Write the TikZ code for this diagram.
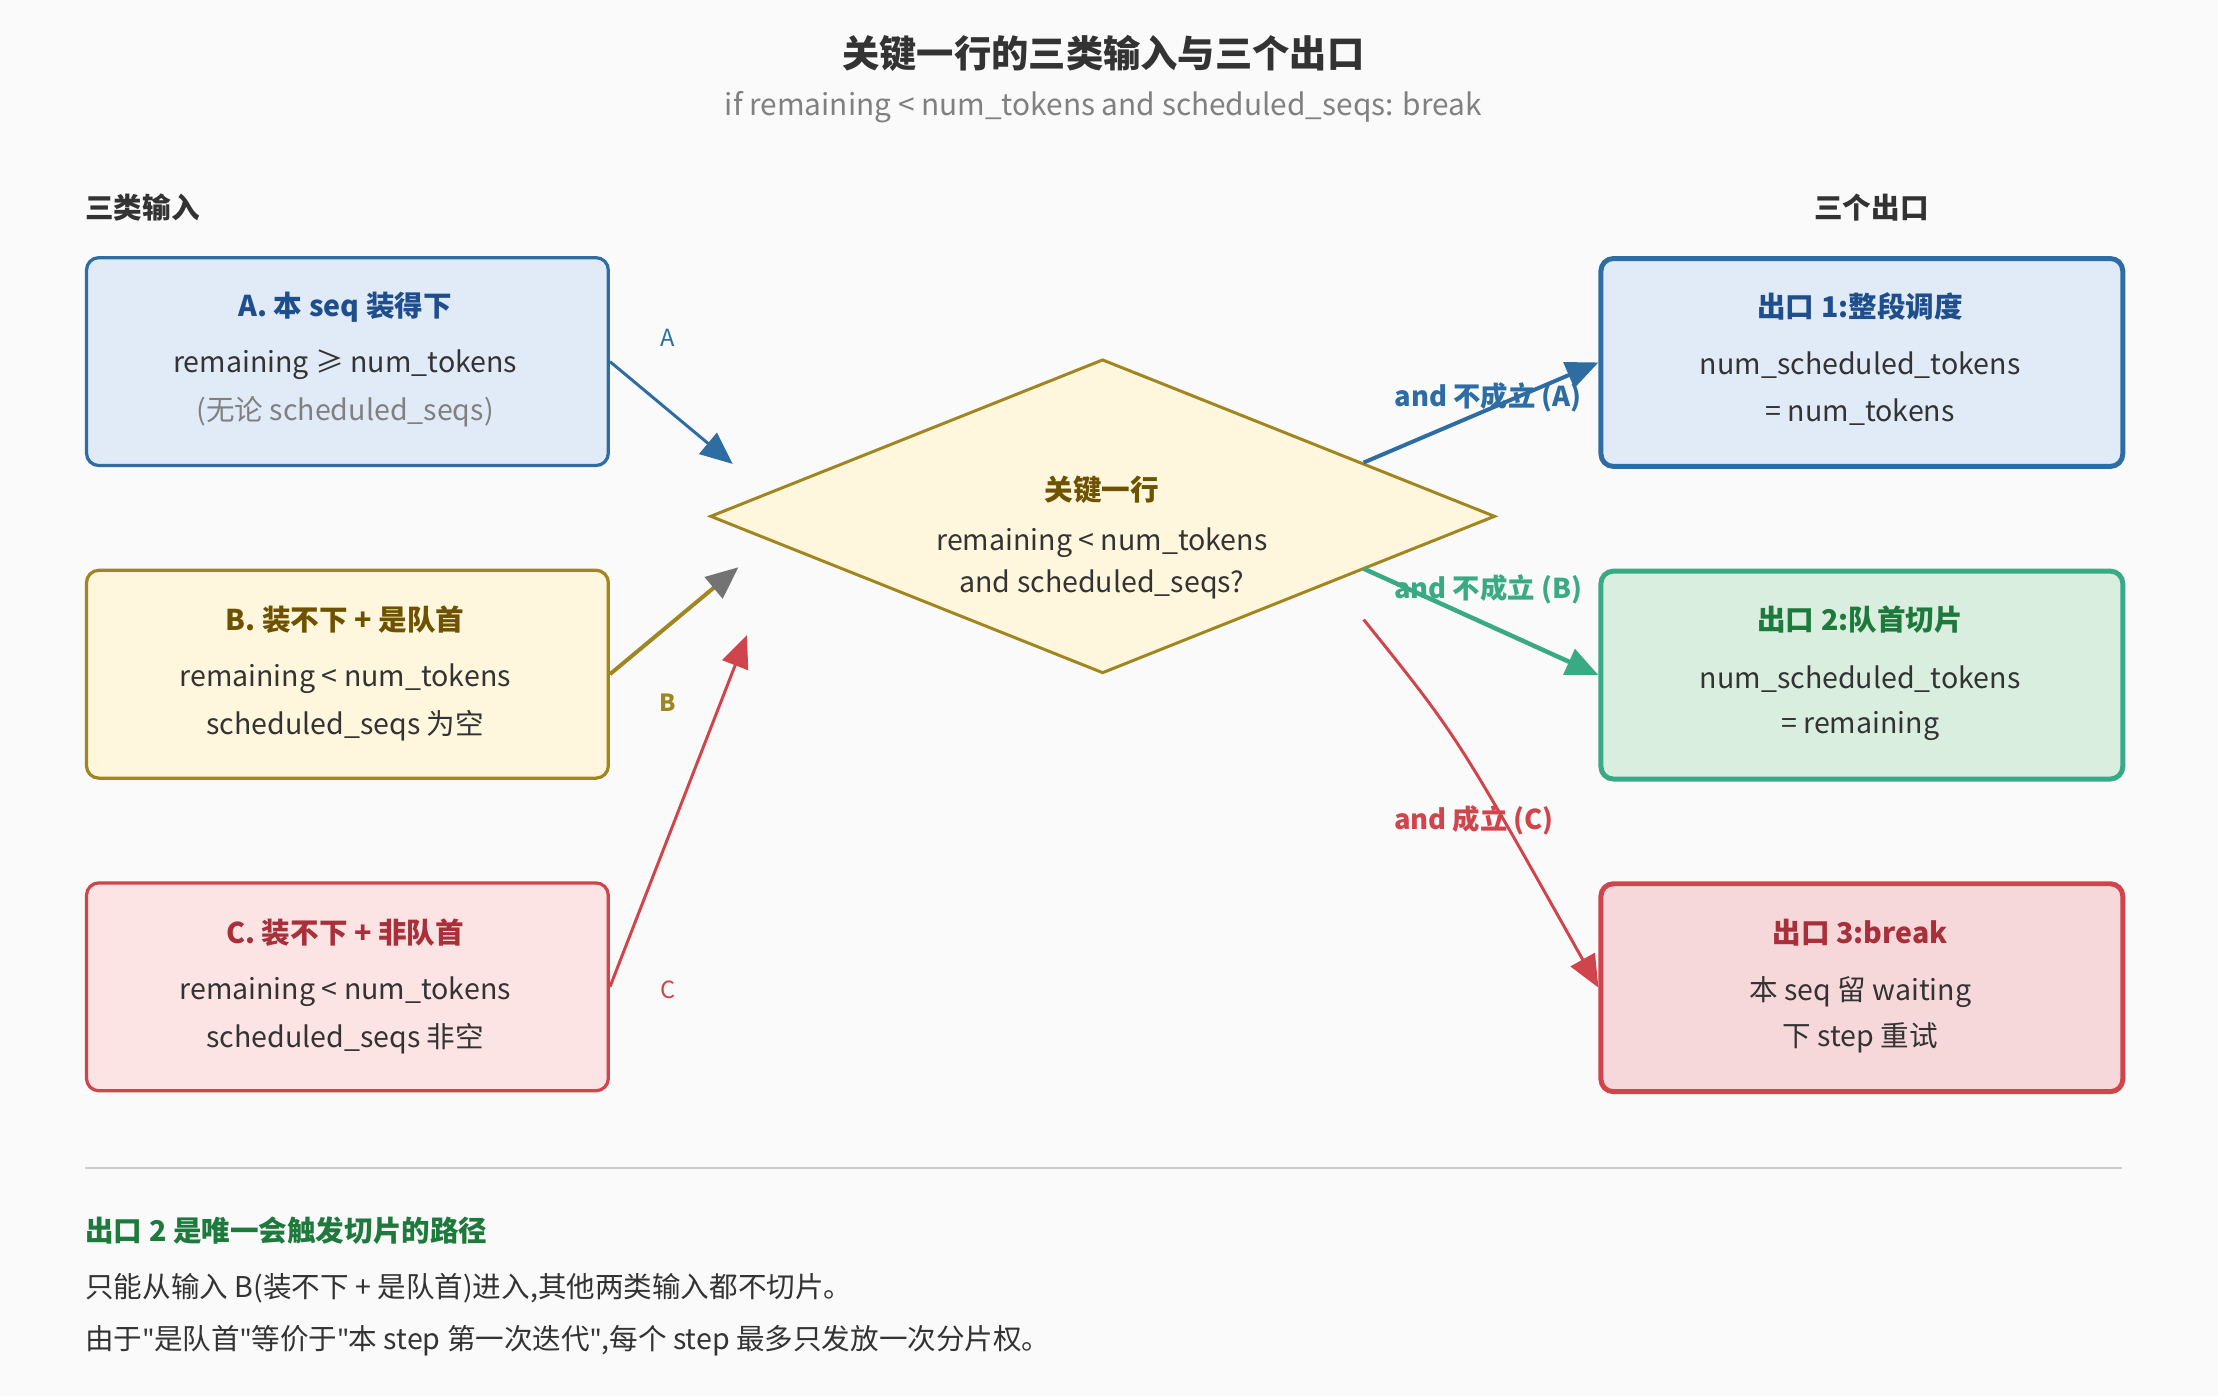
\documentclass[tikz,border=0pt]{standalone}
\usepackage{fontspec}
\setmainfont{Noto Sans CJK SC}
\newfontfamily\qfont{Noto Sans}
\usetikzlibrary{shapes.geometric,arrows.meta,positioning}
\definecolor{bgc}{HTML}{FAFAFA}
\definecolor{blueb}{HTML}{2E6DA4}
\definecolor{bluef}{HTML}{E1EBF8}
\definecolor{bluet}{HTML}{1F4E8C}
\definecolor{goldb}{HTML}{A08520}
\definecolor{goldf}{HTML}{FFF7DD}
\definecolor{goldt}{HTML}{6E5200}
\definecolor{redb}{HTML}{D0454C}
\definecolor{redf}{HTML}{FDE4E4}
\definecolor{redof}{HTML}{F6D8DA}
\definecolor{redt}{HTML}{A8303A}
\definecolor{greenb}{HTML}{3AAA85}
\definecolor{greenf}{HTML}{D9EEDF}
\definecolor{greent}{HTML}{1E7A3C}
\definecolor{txt}{HTML}{333333}
\newcommand{\dq}{{\qfont\symbol{34}}}
\begin{document}
\begin{tikzpicture}[x=0.02cm,y=-0.02cm,
    box/.style={rectangle,rounded corners=5pt,line width=1.3pt,minimum width=7.38cm,minimum height=2.94cm,anchor=north west},
    outbox/.style={box,line width=2pt},
    ttl/.style={font=\fontsize{11.5}{14}\selectfont\bfseries},
    body/.style={font=\fontsize{11.5}{14}\selectfont,text=txt},
    lab/.style={font=\fontsize{9.5}{12}\selectfont},
    elab/.style={font=\fontsize{11}{14}\selectfont\bfseries},
    arr/.style={line width=1.2pt,-{Triangle[length=13pt,width=11pt]}}]
  \fill[bgc] (0,0) rectangle (1568,987);
  \useasboundingbox (0,0) rectangle (1568,987);

  % title
  \node[font=\fontsize{15}{18}\selectfont\bfseries,text=txt] (title) at (780,38) {关键一行的三类输入与三个出口};
  \node[font=\fontsize{12}{14}\selectfont,text=gray] (sub) at (780,76) {if remaining < num\_tokens and scheduled\_seqs: break};
  \node[ttl,text=txt,anchor=west,inner sep=0pt] (inh) at (60,147) {三类输入};
  \node[ttl,text=txt] (outh) at (1323,147) {三个出口};

  % inputs
  \node[box,draw=blueb,fill=bluef] (ia) at (60,181) {};
  \node[ttl,text=bluet] at (244,217) {A. 本 seq 装得下};
  \node[body] at (244,258) {remaining ≥ num\_tokens};
  \node[body,text=gray] at (244,291) {(无论 scheduled\_seqs)};

  \node[box,draw=goldb,fill=goldf] (ib) at (60,402) {};
  \node[ttl,text=goldt] at (244,438) {B. 装不下 + 是队首};
  \node[body] at (244,480) {remaining < num\_tokens};
  \node[body] at (244,513) {scheduled\_seqs 为空};

  \node[box,draw=redb,fill=redf] (ic) at (60,623) {};
  \node[ttl,text=redt] at (244,659) {C. 装不下 + 非队首};
  \node[body] at (244,701) {remaining < num\_tokens};
  \node[body] at (244,734) {scheduled\_seqs 非空};

  % decision
  \node[diamond,draw=goldb,fill=goldf,line width=1.2pt,minimum width=11.1cm,minimum height=4.44cm,inner sep=0pt] (key) at (779.5,365) {};
  \node[ttl,text=goldt] at (779,346) {关键一行};
  \node[body] at (779,384) {remaining < num\_tokens};
  \node[body] at (779,413) {and scheduled\_seqs?};

  % outputs
  \node[outbox,draw=blueb,fill=bluef] (oa) at (1130,181) {};
  \node[ttl,text=bluet] at (1315,217) {出口 1:整段调度};
  \node[body] at (1315,258) {num\_scheduled\_tokens};
  \node[body] at (1315,291) {= num\_tokens};

  \node[outbox,draw=greenb,fill=greenf] (ob) at (1130,402) {};
  \node[ttl,text=greent] at (1315,438) {出口 2:队首切片};
  \node[body] at (1315,480) {num\_scheduled\_tokens};
  \node[body] at (1315,513) {= remaining};

  \node[outbox,draw=redb,fill=redof] (oc) at (1130,623) {};
  \node[ttl,text=redt] at (1315,659) {出口 3:break};
  \node[body] at (1315,701) {本 seq 留 waiting};
  \node[body] at (1315,734) {下 step 重试};

  % connector ends
  \coordinate (ka) at (518,328);
  \coordinate (kb) at (522,401);
  \coordinate (kc) at (528,449);
  \coordinate (sa) at (964,327);
  \coordinate (sb) at (964,402);
  \coordinate (sc) at (964,438);

  \draw[arr,blueb] (ia.east) -- (ka);
  \draw[arr,goldb,line width=1.6pt,-{Triangle[length=13pt,width=11pt,color=gray!90!black]}] (ib.east) -- (kb);
  \draw[arr,redb] (ic.east) -- (kc);
  \node[lab,text=blueb] (la) at (472,239) {A};
  \node[lab,text=goldb,font=\fontsize{9.5}{12}\selectfont\bfseries] (lb) at (472,497) {B};
  \node[lab,text=redb] (lc) at (472,700) {C};

  \draw[arr,blueb,line width=1.6pt] (sa) -- (oa.west);
  \draw[arr,greenb,line width=1.8pt] (sb) -- (ob.west);
  \draw[arr,redb] (sc) .. controls (1030,520) .. (oc.west);
  \node[elab,text=blueb] (loa) at (1052,281) {and 不成立 (A)};
  \node[elab,text=greenb] (lob) at (1052,417) {and 不成立 (B)};
  \node[elab,text=redb] (loc) at (1042,580) {and 成立 (C)};

  % note
  \draw[gray!40,line width=0.8pt] (60,826) -- (1500,826);
  \node[ttl,text=greent,anchor=west,inner sep=0pt] (n1) at (60,870) {出口 2 是唯一会触发切片的路径};
  \node[body,anchor=west,inner sep=0pt] (n2) at (60,911) {只能从输入 B(装不下 + 是队首)进入,其他两类输入都不切片。};
  \node[body,anchor=west,inner sep=0pt] (n3) at (60,948) {由于\dq 是队首\dq 等价于\dq 本 step 第一次迭代\dq,每个 step 最多只发放一次分片权。};
\end{tikzpicture}
\end{document}
